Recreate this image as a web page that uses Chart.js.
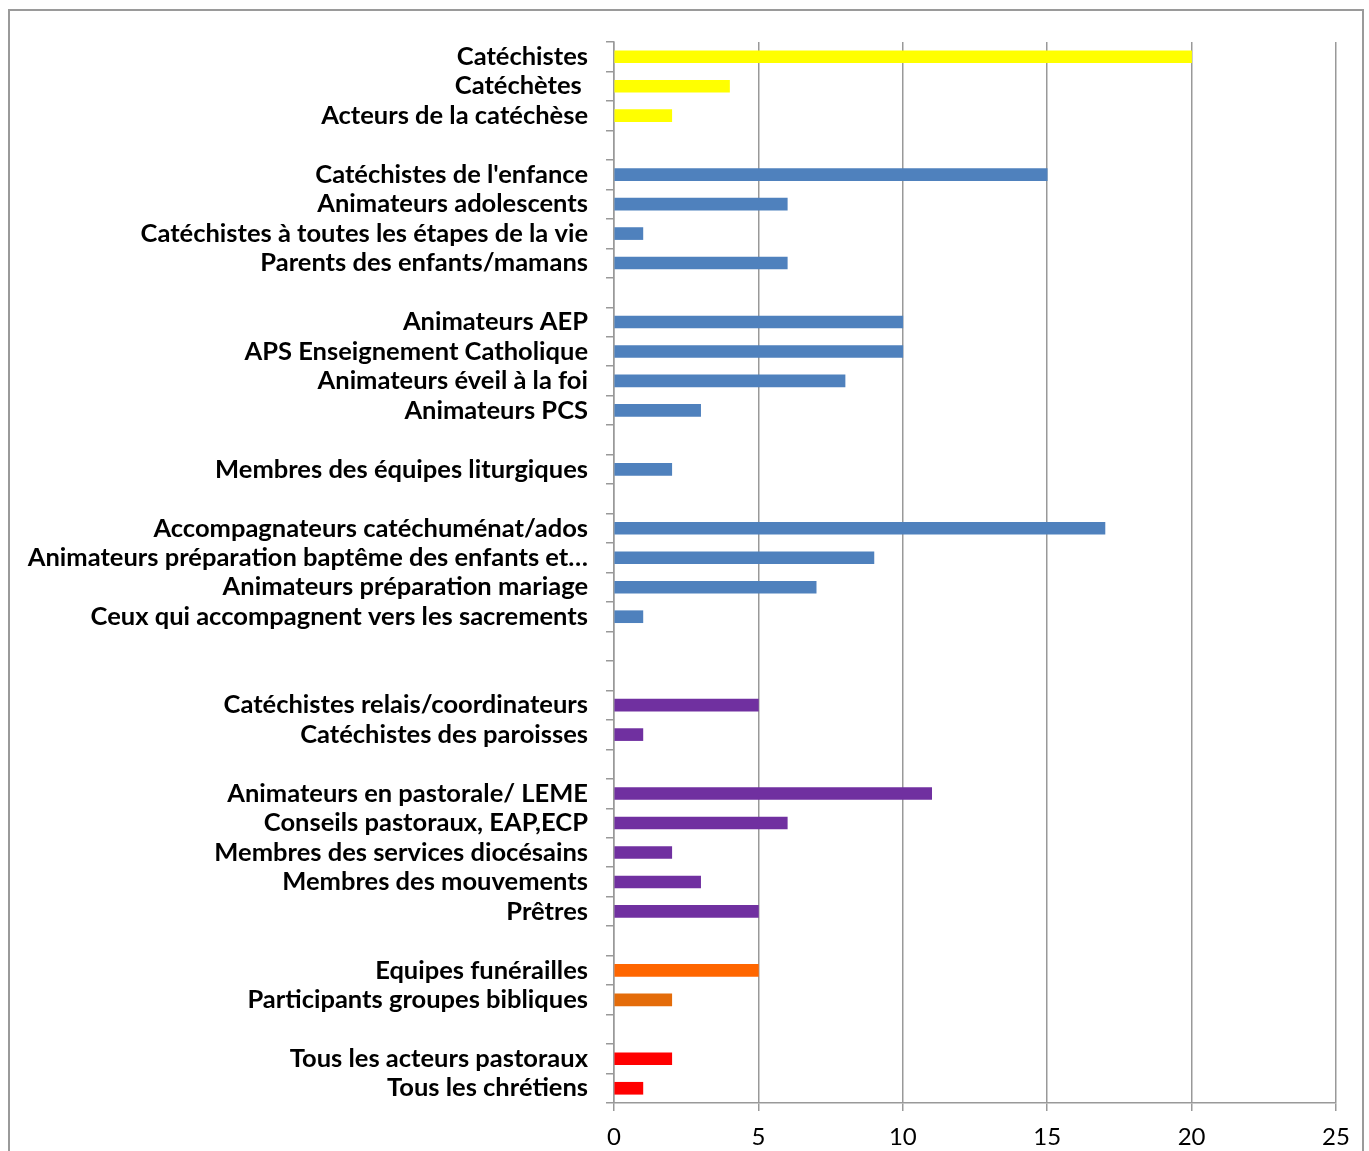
<!DOCTYPE html>
<html>
<head>
<meta charset="utf-8">
<script src="https://cdn.jsdelivr.net/npm/chart.js@4.4.0/dist/chart.umd.min.js"></script>
<style>
  html, body { margin: 0; padding: 0; background: #fff; overflow: hidden; }
  #wrap { position: relative; width: 1369px; height: 1151px; }
  #frame { position: absolute; left: 8px; top: 9px; width: 1352px; height: 1200px; border: 2px solid #9a9a9a; }
  #acteurs { position: absolute; left: 0; top: 0; }
</style>
</head>
<body>
<div id="wrap">
  <div id="frame"></div>
  <canvas id="acteurs" width="1369" height="1151"></canvas>
</div>
<script>
// categories (empty strings = blank rows between groups)
const categories = [
  'Catéchistes', 'Catéchètes ', 'Acteurs de la catéchèse', '',
  "Catéchistes de l'enfance", 'Animateurs adolescents', 'Catéchistes à toutes les étapes de la vie', 'Parents des enfants/mamans', '',
  'Animateurs AEP', 'APS Enseignement Catholique', 'Animateurs éveil à la foi', 'Animateurs PCS', '',
  'Membres des équipes liturgiques', '',
  'Accompagnateurs catéchuménat/ados', 'Animateurs préparation baptême des enfants et…', 'Animateurs préparation mariage', 'Ceux qui accompagnent vers les sacrements', '', '',
  'Catéchistes relais/coordinateurs', 'Catéchistes des paroisses', '',
  'Animateurs en pastorale/ LEME', 'Conseils pastoraux, EAP,ECP', 'Membres des services diocésains', 'Membres des mouvements', 'Prêtres', '',
  'Equipes funérailles', 'Participants groupes bibliques', '',
  'Tous les acteurs pastoraux', 'Tous les chrétiens'
];

const values = [
  20, 4, 2, null,
  15, 6, 1, 6, null,
  10, 10, 8, 3, null,
  2, null,
  17, 9, 7, 1, null, null,
  5, 1, null,
  11, 6, 2, 3, 5, null,
  5, 2, null,
  2, 1
];

const barColors = [
  '#FFFF00', '#FFFF00', '#FFFF00', '#FFFFFF',
  '#4F81BD', '#4F81BD', '#4F81BD', '#4F81BD', '#FFFFFF',
  '#4F81BD', '#4F81BD', '#4F81BD', '#4F81BD', '#FFFFFF',
  '#4F81BD', '#FFFFFF',
  '#4F81BD', '#4F81BD', '#4F81BD', '#4F81BD', '#FFFFFF', '#FFFFFF',
  '#7030A0', '#7030A0', '#FFFFFF',
  '#7030A0', '#7030A0', '#7030A0', '#7030A0', '#7030A0', '#FFFFFF',
  '#FF6600', '#E46C0A', '#FFFFFF',
  '#FF0000', '#FF0000'
];

const xTicks = [0, 5, 10, 15, 20, 25];

document.addEventListener("DOMContentLoaded", function () {
  const ctx = document.getElementById('acteurs').getContext('2d');
  new Chart(ctx, {
    type: 'bar',
    data: {
      labels: categories,
      datasets: [{
        data: values,
        backgroundColor: barColors,
        barThickness: 12
      }]
    },
    options: {
      indexAxis: 'y',
      responsive: false,
      animation: false,
      layout: { padding: { top: 42, right: 33, left: 0, bottom: 0 } },
      plugins: { legend: { display: false }, tooltip: { enabled: false } },
      scales: {
        x: {
          min: 0, max: 25,
          afterBuildTicks: function (scale) { scale.ticks = xTicks.map(v => ({ value: v })); },
          afterFit: function (scale) { scale.height = 48; },
          grid: { color: '#999999', lineWidth: 1.5, tickLength: 8 },
          border: { color: '#999999', width: 1.5 },
          ticks: { color: '#000', padding: 12, font: { family: 'Lato', size: 24 } }
        },
        y: {
          afterFit: function (scale) { scale.width = 614; },
          grid: { offset: true, drawOnChartArea: false, color: '#999999', lineWidth: 1.5, tickLength: 8 },
          border: { color: '#999999', width: 1.5 },
          ticks: { color: '#000', padding: 18, autoSkip: false, font: { family: 'Lato', size: 25.5, weight: 'bold' } }
        }
      }
    }
  });
});
</script>
</body>
</html>
